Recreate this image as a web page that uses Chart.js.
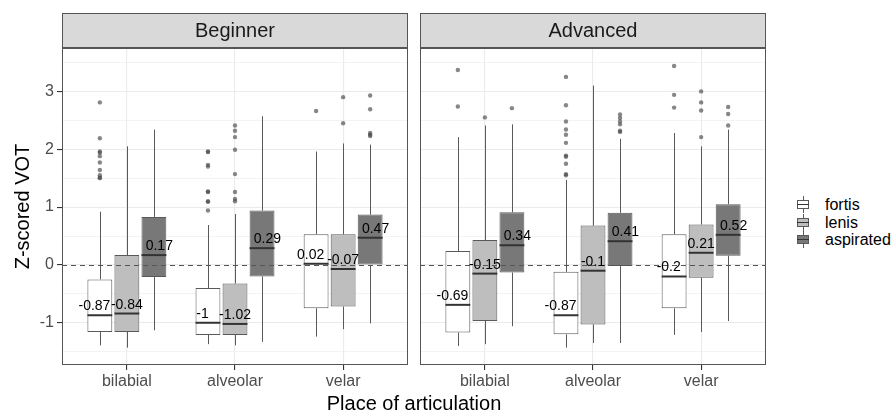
<!DOCTYPE html>
<html>
<head>
<meta charset="utf-8">
<script src="https://cdn.jsdelivr.net/npm/chart.js@4.4.0/dist/chart.umd.min.js"></script>
<style>
  body { margin: 0; background: #fff; font-family: "Liberation Sans", Arial, sans-serif; }
  #wrap { position: relative; width: 891px; height: 413px; overflow: hidden; }
  #c1 { position: absolute; left: 0; top: 0; }
  #c2 { position: absolute; left: 410px; top: 0; }
  #xtitle { position: absolute; left: 62px; width: 704px; top: 393px; text-align: center;
            font-size: 20px; line-height: 20px; color: #000; }
  #legend { position: absolute; left: 797px; top: 196px; }
  .row { position: relative; height: 17.5px; }
  .key { position: absolute; left: 0; top: 0; width: 12px; height: 17px; }
  .key .wh { position: absolute; left: 5.5px; top: 0; width: 1px; height: 17px; background: #595959; }
  .key .bx { position: absolute; left: 0; top: 4px; width: 10px; height: 7px; border: 1px solid #595959; }
  .key .md { position: absolute; left: 0; top: 8px; width: 12px; height: 1px; background: #333; }
  .lab { position: absolute; left: 28px; top: 0; font-size: 16px; line-height: 17px; color: #000; white-space: nowrap; }
</style>
</head>
<body>
<div id="wrap">
  <canvas id="c1" width="412" height="413"></canvas>
  <canvas id="c2" width="360" height="413"></canvas>
  <div id="xtitle">Place of articulation</div>
  <div id="legend"></div>
</div>
<script>
// categories
const places = ['bilabial', 'alveolar', 'velar'];
const types = ['fortis', 'lenis', 'aspirated'];
const fills = ['#ffffff', '#bebebe', '#787878'];
const yMajorTicks = [-1, 0, 1, 2, 3];
const yMinorTicks = [-1.5, -0.5, 0.5, 1.5, 2.5, 3.5];

// Beginner: rows = fortis, lenis, aspirated; columns = bilabial, alveolar, velar
const begLower  = [[-1.39, -1.37, -1.24], [-1.43, -1.39, -1.11], [-1.13, -1.33, -1.01]];
const begQ1     = [[-1.16, -1.21, -0.75], [-1.16, -1.21, -0.72], [-0.21, -0.20, 0.00]];
const begMedian = [[-0.87, -1, 0.02], [-0.84, -1.02, -0.07], [0.17, 0.29, 0.47]];
const begQ3     = [[-0.25, -0.40, 0.53], [0.17, -0.32, 0.53], [0.83, 0.94, 0.87]];
const begUpper  = [[0.92, 0.69, 1.96], [2.05, 0.88, 2.10], [2.34, 2.57, 2.08]];
const begOutliers = [
  [[2.81, 2.19, 1.96, 1.94, 1.88, 1.77, 1.64, 1.55, 1.51, 1.50],
   [1.96, 1.95, 1.73, 1.70, 1.27, 1.26, 1.10, 1.09, 0.94],
   [2.66]],
  [[], [2.41, 2.32, 2.21, 1.99, 1.57, 1.26, 1.14, 1.10], [2.90, 2.45]],
  [[], [], [2.93, 2.69, 2.28, 2.25, 2.23]]
];

// Advanced
const advLower  = [[-1.40, -1.43, -1.21], [-1.37, -1.35, -1.16], [-1.06, -1.35, -0.97]];
const advQ1     = [[-1.17, -1.20, -0.75], [-0.97, -1.03, -0.22], [-0.13, -0.02, 0.16]];
const advMedian = [[-0.69, -0.87, -0.2], [-0.15, -0.1, 0.21], [0.34, 0.41, 0.52]];
const advQ3     = [[0.24, -0.12, 0.53], [0.43, 0.68, 0.70], [0.91, 0.90, 1.05]];
const advUpper  = [[2.21, 1.47, 2.28], [2.41, 3.10, 2.05], [2.43, 2.18, 2.34]];
const advOutliers = [
  [[3.37, 2.74], [3.25, 2.76, 2.48, 2.34, 2.25, 2.11, 1.89, 1.87, 1.75, 1.57, 1.55], [3.44, 2.94, 2.72]],
  [[2.55], [], [3.00, 2.81, 2.67, 2.21]],
  [[2.71], [2.60, 2.54, 2.48, 2.43, 2.32, 2.30], [2.73, 2.61, 2.41]]
];

const boxDodge = [-0.25, 0, 0.25];
const textDodge = [-0.3, 0, 0.3];
const FONT = '"Liberation Sans", Arial, sans-serif';
Chart.defaults.font.family = FONT;

function facetPlugin(strip, s) {
  return {
    id: 'facet',
    beforeDatasetsDraw(chart) {
      // whiskers behind boxes
      const ctx = chart.ctx, y = chart.scales.y;
      ctx.save();
      ctx.strokeStyle = '#595959';
      ctx.lineWidth = 1;
      types.forEach((t, ti) => {
        chart.getDatasetMeta(ti).data.forEach((bar, pi) => {
          const bx = Math.round(bar.x) + 0.5;
          ctx.beginPath();
          ctx.moveTo(bx, y.getPixelForValue(s.upper[ti][pi]));
          ctx.lineTo(bx, y.getPixelForValue(s.q3[ti][pi]));
          ctx.moveTo(bx, y.getPixelForValue(s.q1[ti][pi]));
          ctx.lineTo(bx, y.getPixelForValue(s.lower[ti][pi]));
          ctx.stroke();
        });
      });
      ctx.restore();
    },
    afterDatasetsDraw(chart) {
      const ctx = chart.ctx, x = chart.scales.x, y = chart.scales.y;
      const a = chart.chartArea;
      ctx.save();
      // medians
      ctx.strokeStyle = '#333';
      ctx.lineWidth = 2;
      types.forEach((t, ti) => {
        chart.getDatasetMeta(ti).data.forEach((bar, pi) => {
          const my = y.getPixelForValue(s.median[ti][pi]);
          ctx.beginPath();
          ctx.moveTo(bar.x - bar.width / 2, my);
          ctx.lineTo(bar.x + bar.width / 2, my);
          ctx.stroke();
        });
      });
      // zero reference line
      const y0 = Math.round(y.getPixelForValue(0)) + 0.5;
      ctx.strokeStyle = '#555';
      ctx.lineWidth = 1;
      ctx.setLineDash([5, 4]);
      ctx.beginPath();
      ctx.moveTo(a.left, y0);
      ctx.lineTo(a.right, y0);
      ctx.stroke();
      ctx.setLineDash([]);
      // median labels
      ctx.fillStyle = '#000';
      ctx.font = '14px ' + FONT;
      ctx.textAlign = 'center';
      ctx.textBaseline = 'alphabetic';
      types.forEach((t, ti) => {
        places.forEach((p, pi) => {
          const v = s.median[ti][pi];
          ctx.fillText(String(v), x.getPixelForValue(pi + 1 + textDodge[ti]), y.getPixelForValue(v) - 5);
        });
      });
      // panel border
      ctx.strokeStyle = '#555';
      ctx.strokeRect(a.left + 0.5, a.top + 0.5, a.right - a.left - 1, a.bottom - a.top - 1);
      // strip
      ctx.fillStyle = '#d9d9d9';
      ctx.fillRect(a.left + 0.5, 13.5, a.right - a.left - 1, a.top - 14);
      ctx.strokeRect(a.left + 0.5, 13.5, a.right - a.left - 1, a.top - 14);
      ctx.fillStyle = '#1a1a1a';
      ctx.font = '20px ' + FONT;
      ctx.textBaseline = 'middle';
      ctx.fillText(strip, (a.left + a.right) / 2, (13 + a.top) / 2 + 1);
      ctx.restore();
    }
  };
}

function makePanel(id, strip, s, outliers, showY) {
  const datasets = types.map((t, ti) => ({
    type: 'bar',
    label: t,
    data: places.map((p, pi) => ({ x: pi + 1, y: [s.q1[ti][pi], s.q3[ti][pi]] })),
    backgroundColor: fills[ti],
    borderColor: '#595959',
    borderWidth: 1,
    borderSkipped: false,
    categoryPercentage: 0.75,
    barPercentage: 0.92
  }));
  types.forEach((t, ti) => {
    const pts = [];
    places.forEach((p, pi) => {
      outliers[ti][pi].forEach(v => pts.push({ x: pi + 1 + boxDodge[ti], y: v }));
    });
    datasets.push({
      type: 'scatter',
      label: t + ' outliers',
      data: pts,
      pointRadius: 2.2,
      pointBackgroundColor: 'rgba(70,70,70,0.65)',
      pointBorderWidth: 0
    });
  });

  return new Chart(document.getElementById(id), {
    type: 'bar',
    data: { datasets },
    options: {
      responsive: false,
      animation: false,
      events: [],
      layout: { padding: { left: 0, right: 4, top: 48, bottom: 0 } },
      plugins: { legend: { display: false }, tooltip: { enabled: false } },
      scales: {
        x: {
          type: 'linear',
          min: 0.4,
          max: 3.6,
          offset: false,
          afterBuildTicks: sc => { sc.ticks = places.map((p, i) => ({ value: i + 1 })); },
          afterFit: sc => { sc.height = 48; },
          border: { display: false },
          grid: { offset: false, color: '#ebebeb', lineWidth: 1.1, tickColor: '#333', tickLength: 5 },
          ticks: {
            color: '#4d4d4d',
            font: { size: 16 },
            padding: 2,
            maxRotation: 0,
            callback: v => places[v - 1]
          }
        },
        y: {
          min: -1.73,
          max: 3.75,
          afterBuildTicks: sc => {
            sc.ticks = yMajorTicks.concat(yMinorTicks).sort((a, b) => a - b).map(v => ({ value: v }));
          },
          afterFit: sc => { sc.width = showY ? 62 : 10; },
          border: { display: false },
          grid: {
            drawTicks: showY,
            tickLength: 5,
            color: '#ebebeb',
            lineWidth: c => (Number.isInteger(c.tick.value) ? 1.1 : 0.6),
            tickColor: c => (Number.isInteger(c.tick.value) ? '#333' : 'rgba(0,0,0,0)')
          },
          ticks: {
            display: showY,
            color: '#4d4d4d',
            font: { size: 16 },
            padding: 3,
            autoSkip: false,
            callback: v => (Number.isInteger(v) ? String(v) : '')
          },
          title: {
            display: showY,
            text: 'Z-scored VOT',
            color: '#000',
            font: { size: 20 },
            padding: { top: 11, bottom: 0 }
          }
        }
      }
    },
    plugins: [facetPlugin(strip, s)]
  });
}

makePanel('c1', 'Beginner',
  { lower: begLower, q1: begQ1, median: begMedian, q3: begQ3, upper: begUpper }, begOutliers, true);
makePanel('c2', 'Advanced',
  { lower: advLower, q1: advQ1, median: advMedian, q3: advQ3, upper: advUpper }, advOutliers, false);

// legend
const legend = document.getElementById('legend');
types.forEach((t, ti) => {
  const row = document.createElement('div');
  row.className = 'row';
  row.innerHTML = '<div class="key"><div class="wh"></div><div class="bx" style="background:' + fills[ti] +
    '"></div><div class="md"></div></div><div class="lab">' + t + '</div>';
  legend.appendChild(row);
});
</script>
</body>
</html>
